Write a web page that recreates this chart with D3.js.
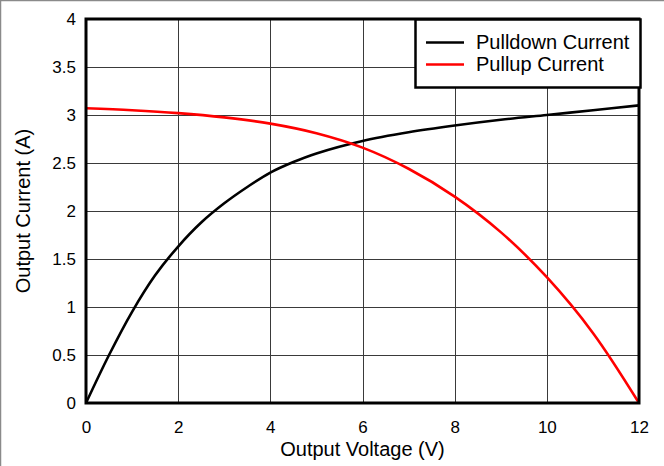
<!DOCTYPE html>
<html><head><meta charset="utf-8">
<script src="https://cdn.jsdelivr.net/npm/d3@7"></script>
<style>
html,body{margin:0;padding:0;background:#fff;}
svg{display:block;font-family:"Liberation Sans",Arial,sans-serif;}
</style></head>
<body><svg id="c" width="664" height="466"></svg>
<script>
const xTicks = [0, 2, 4, 6, 8, 10, 12];
const yTicks = [0, 0.5, 1, 1.5, 2, 2.5, 3, 3.5, 4];
const yTickLabels = ["0", "0.5", "1", "1.5", "2", "2.5", "3", "3.5", "4"];
const seriesNames = ["Pulldown Current", "Pullup Current"];
const seriesColors = ["#000000", "#ff0000"];
const pulldownV = [0, 0.5, 1, 1.5, 2, 2.5, 3, 3.5, 4, 4.5, 5, 6, 7, 8, 9, 10, 11, 12];
const pulldownI = [0, 0.50, 0.95, 1.33, 1.63, 1.88, 2.08, 2.25, 2.40, 2.51, 2.60, 2.73, 2.82, 2.89, 2.95, 3.0, 3.05, 3.10];
const pullupV = [0, 1, 2, 3, 4, 5, 6, 7, 8, 9, 10, 11, 12];
const pullupI = [3.07, 3.05, 3.02, 2.975, 2.91, 2.81, 2.66, 2.44, 2.15, 1.78, 1.31, 0.73, 0];

const svg = d3.select("#c");
const L = 86, R = 639, T = 19, B = 403;
const x = d3.scaleLinear().domain([0, 12]).range([L, R]);
const y = d3.scaleLinear().domain([0, 4]).range([B, T]);

// outer gray border (top & left)
svg.append("line").attr("x1",0).attr("x2",664).attr("y1",0.5).attr("y2",0.5).attr("stroke","#8a8a8a").attr("stroke-width",1.5);
svg.append("line").attr("x1",0.5).attr("x2",0.5).attr("y1",0).attr("y2",466).attr("stroke","#8a8a8a").attr("stroke-width",1.5);

// gridlines
svg.append("g").selectAll("line").data(xTicks).join("line")
  .attr("x1", d => Math.round(x(d)) + 0.5).attr("x2", d => Math.round(x(d)) + 0.5)
  .attr("y1", T).attr("y2", B).attr("stroke", "#3a3a3a").attr("stroke-width", 1);
svg.append("g").selectAll("line").data(yTicks).join("line")
  .attr("y1", d => Math.round(y(d)) + 0.5).attr("y2", d => Math.round(y(d)) + 0.5)
  .attr("x1", L).attr("x2", R).attr("stroke", "#3a3a3a").attr("stroke-width", 1);

// axes labels via d3 axes
const xAxis = d3.axisBottom(x).tickValues(xTicks).tickSize(0).tickPadding(0).tickFormat(d3.format("d"));
const gx = svg.append("g").attr("transform", `translate(0,${B})`).call(xAxis);
gx.select(".domain").remove();
gx.selectAll("text").attr("dy", null).attr("y", 30).attr("font-size", 17).attr("fill", "#000")
  .attr("font-family", "Liberation Sans, Arial, sans-serif");

const yAxis = d3.axisLeft(y).tickValues(yTicks).tickSize(0).tickPadding(0).tickFormat((d, i) => yTickLabels[i]);
const gy = svg.append("g").attr("transform", `translate(${L},0)`).call(yAxis);
gy.select(".domain").remove();
gy.selectAll("text").attr("x", -10).attr("dy", "0.35em").attr("font-size", 17).attr("fill", "#000")
  .attr("font-family", "Liberation Sans, Arial, sans-serif");

// curves
const line = d3.line().x(d => x(d[0])).y(d => y(d[1])).curve(d3.curveCatmullRom.alpha(0.5));
const pd = pulldownV.map((v, i) => [v, pulldownI[i]]);
const pu = pullupV.map((v, i) => [v, pullupI[i]]);
svg.append("path").datum(pd).attr("d", line).attr("fill", "none").attr("stroke", seriesColors[0]).attr("stroke-width", 2.6);
svg.append("path").datum(pu).attr("d", line).attr("fill", "none").attr("stroke", seriesColors[1]).attr("stroke-width", 2.6);

// frame
svg.append("rect").attr("x", L).attr("y", T).attr("width", R - L).attr("height", B - T)
  .attr("fill", "none").attr("stroke", "#000").attr("stroke-width", 3);

// legend
const lg = svg.append("g");
lg.append("rect").attr("x", 415.5).attr("y", 19.5).attr("width", 225).attr("height", 68)
  .attr("fill", "#fff").attr("stroke", "#000").attr("stroke-width", 2.5);
seriesNames.forEach((n, i) => {
  const yy = 42.5 + i * 22;
  lg.append("line").attr("x1", 426).attr("x2", 464).attr("y1", yy).attr("y2", yy)
    .attr("stroke", seriesColors[i]).attr("stroke-width", 2.6);
  lg.append("text").attr("x", 476).attr("y", yy + 6.5).attr("font-size", 20).attr("fill", "#000").text(n);
});

// axis titles
svg.append("text").attr("x", (L + R) / 2).attr("y", 456).attr("text-anchor", "middle")
  .attr("font-size", 20).attr("fill", "#000").text("Output Voltage (V)");
svg.append("text").attr("transform", `translate(30,${(T + B) / 2}) rotate(-90)`).attr("text-anchor", "middle")
  .attr("font-size", 20).attr("fill", "#000").text("Output Current (A)");
</script>
</body></html>
